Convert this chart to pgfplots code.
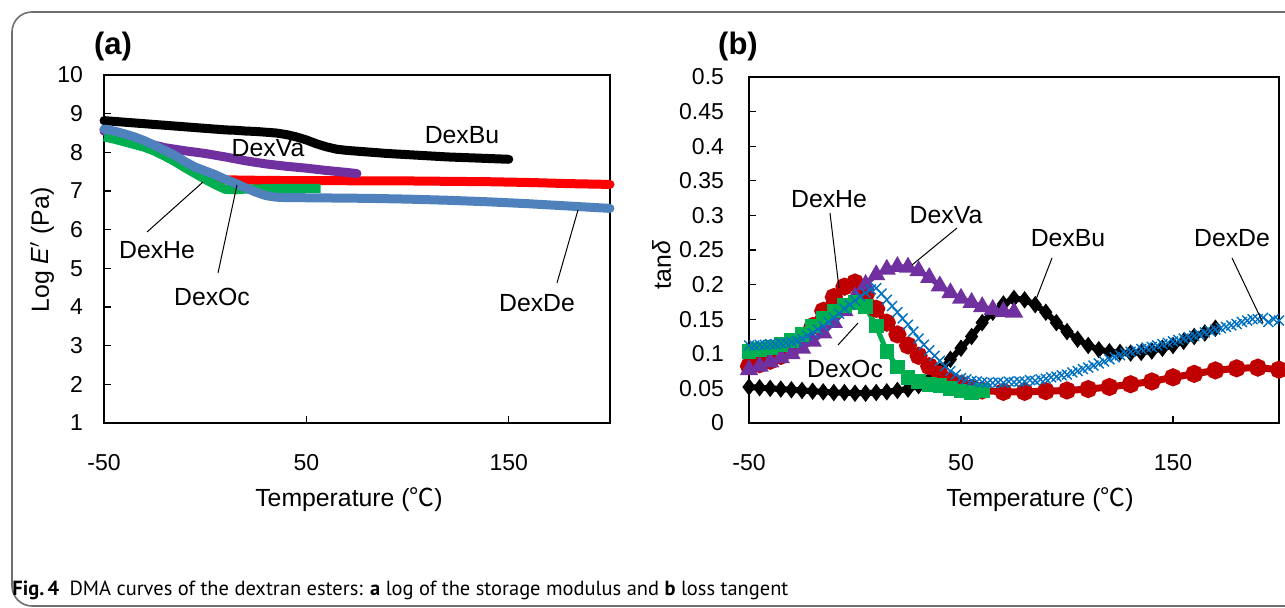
\documentclass[border=0pt]{standalone}
\usepackage{fontspec}
\setmainfont{Liberation Sans}
\newfontfamily\capfont{PT Sans}
\newfontfamily\cjk{Noto Sans CJK SC}
\usepackage{pgfplots}
\pgfplotsset{compat=1.18}

\definecolor{cRedA}{RGB}{255,0,0}
\definecolor{cRedB}{RGB}{192,0,0}
\definecolor{cPurple}{RGB}{112,48,160}
\definecolor{cGreen}{RGB}{0,176,80}
\definecolor{cBlueA}{RGB}{79,129,189}
\definecolor{cBlueB}{RGB}{0,112,192}
\definecolor{frameGray}{RGB}{110,110,110}

\pgfplotsset{
  dma/.style={
    scale only axis, xmin=-50, xmax=200,
    xtick={-50,50,150}, xticklabels={-50,50,150},
    xtick pos=left, ytick pos=left,
    tick align=inside, major tick length=3.5pt,
    tick style={black, line width=0.6pt},
    axis line style={black, line width=0.6pt},
    tick label style={font=\fontsize{11.5}{13}\selectfont},
    xticklabel style={yshift=-12pt},
    clip=false,
  },
  bandA/.style={line width=4.5pt, line join=round, line cap=round, mark=none},
}

\begin{document}
\begin{tikzpicture}[x=0.5pt,y=0.5pt]
\useasboundingbox (0,0) rectangle (1285,608);
\draw[frameGray, line width=0.8pt, rounded corners=10pt] (12,{608-12}) rectangle (1330,{608-606});

% ---------- (a) storage modulus ----------
\begin{axis}[dma, at={(52pt,92.5pt)}, anchor=south west,
  width=253pt, height=174pt, ymin=1, ymax=10,
  ytick={1,2,...,10}, yticklabels={1,2,3,4,5,6,7,8,9,10},
  yticklabel style={xshift=-7pt}]
\addplot[bandA, black] coordinates {
(-50,8.82) (-45,8.80) (-40,8.78) (-35,8.76) (-30,8.74) (-25,8.72) (-20,8.70)
(-15,8.68) (-10,8.66) (-5,8.64) (0,8.62) (5,8.60) (10,8.58) (15,8.57) (20,8.55)
(25,8.54) (30,8.52) (35,8.50) (40,8.46) (45,8.40) (50,8.32) (55,8.22) (60,8.14)
(65,8.08) (70,8.05) (80,8.01) (90,7.97) (100,7.94) (110,7.91) (120,7.88)
(130,7.86) (140,7.84) (150,7.82)};
\addplot[bandA, cRedA] coordinates {
(-50,8.56) (-45,8.50) (-40,8.43) (-35,8.35) (-30,8.25) (-25,8.12) (-20,7.98)
(-15,7.83) (-10,7.67) (-5,7.50) (0,7.38) (5,7.32) (10,7.29) (20,7.28) (40,7.27)
(60,7.27) (80,7.26) (100,7.26) (120,7.25) (140,7.24) (160,7.22) (180,7.19) (200,7.17)};
\addplot[bandA, cPurple] coordinates {
(-50,8.55) (-40,8.40) (-30,8.25) (-20,8.12) (-10,8.04) (0,7.97) (10,7.88)
(20,7.78) (30,7.70) (40,7.64) (50,7.59) (60,7.53) (70,7.48) (75,7.45)};
\addplot[bandA, cGreen, line cap=butt] coordinates {
(-50,8.40) (-45,8.34) (-40,8.27) (-35,8.20) (-30,8.13) (-25,8.03) (-20,7.90)
(-15,7.76) (-10,7.60) (-5,7.45) (0,7.30) (5,7.16) (10,7.04) (15,7.03) (20,7.05)
(30,7.06) (40,7.07) (50,7.07) (57,7.07)};
\addplot[bandA, cBlueA] coordinates {
(-50,8.60) (-45,8.55) (-40,8.48) (-35,8.40) (-30,8.30) (-25,8.18) (-20,8.05)
(-15,7.92) (-10,7.76) (-5,7.62) (0,7.52) (5,7.42) (10,7.30) (15,7.20) (20,7.08)
(25,6.97) (30,6.88) (35,6.84) (40,6.83) (60,6.82) (80,6.81) (100,6.79) (120,6.76)
(140,6.72) (160,6.67) (180,6.61) (200,6.55)};
\end{axis}

% ---------- (b) loss tangent ----------
\begin{axis}[dma, at={(374.5pt,92.5pt)}, anchor=south west,
  width=265pt, height=173pt, ymin=0, ymax=0.5,
  ytick={0,0.05,...,0.51},
  yticklabels={0,0.05,0.1,0.15,0.2,0.25,0.3,0.35,0.4,0.45,0.5},
  yticklabel style={xshift=-9pt}]
\addplot[black, line width=3pt, mark=diamond*, mark size=1.9pt] coordinates {
(-50,0.052) (-45,0.051) (-40,0.050) (-35,0.049) (-30,0.048) (-25,0.047) (-20,0.046)
(-15,0.045) (-10,0.044) (-5,0.044) (0,0.043) (5,0.043) (10,0.044) (15,0.045)
(20,0.047) (25,0.049) (30,0.054) (35,0.062) (40,0.075) (45,0.092) (50,0.108)
(55,0.125) (60,0.145) (65,0.160) (70,0.172) (75,0.180) (80,0.178) (85,0.171)
(90,0.160) (95,0.145) (100,0.132) (105,0.121) (110,0.112) (115,0.106) (120,0.103)
(125,0.102) (130,0.101) (135,0.102) (140,0.104) (145,0.108) (150,0.112)
(155,0.118) (160,0.125) (165,0.130) (170,0.137)};
\addplot[cRedB, line width=3.5pt, mark=*, mark size=2.7pt] coordinates {
(-50,0.082) (-45,0.085) (-40,0.090) (-35,0.097) (-30,0.107) (-25,0.122) (-20,0.140)
(-15,0.162) (-10,0.182) (-5,0.197) (0,0.203) (5,0.185) (10,0.165) (15,0.145)
(20,0.128) (25,0.112) (30,0.097) (35,0.082) (40,0.070) (45,0.062) (50,0.056)
(55,0.050) (60,0.047) (70,0.045) (80,0.045) (90,0.046) (100,0.047) (110,0.049)
(120,0.052) (130,0.056) (140,0.060) (150,0.066) (160,0.071) (170,0.076)
(180,0.079) (190,0.080) (200,0.077)};
\addplot[cPurple, line width=2.5pt, mark=triangle*, mark size=2.8pt] coordinates {
(-50,0.077) (-45,0.082) (-40,0.088) (-35,0.094) (-30,0.100) (-25,0.108) (-20,0.118)
(-15,0.130) (-10,0.145) (-5,0.162) (0,0.182) (5,0.200) (10,0.214) (15,0.222)
(20,0.226) (25,0.225) (30,0.220) (35,0.210) (40,0.198) (45,0.188) (50,0.180)
(55,0.174) (60,0.168) (65,0.164) (70,0.161) (75,0.160)};
\addplot[cGreen, line width=2.5pt, mark=square*, mark size=2.4pt] coordinates {
(-50,0.103) (-45,0.106) (-40,0.109) (-35,0.113) (-30,0.119) (-25,0.128) (-20,0.140)
(-15,0.152) (-10,0.162) (-5,0.170) (0,0.174) (5,0.168) (10,0.140) (15,0.103)
(20,0.081) (25,0.066) (30,0.060) (35,0.056) (40,0.054) (45,0.050) (50,0.046)
(55,0.044) (60,0.047)};
\addplot[cBlueB, only marks, mark=x, mark size=3.5pt, mark options={line width=0.7pt}] coordinates {
(-50,0.112) (-47.5,0.112) (-45,0.113) (-42.5,0.113) (-40,0.114) (-37.5,0.114)
(-35,0.115) (-32.5,0.116) (-30,0.117) (-27.5,0.119) (-25,0.122) (-22.5,0.126)
(-20,0.130) (-17.5,0.135) (-15,0.140) (-12.5,0.146) (-10,0.152) (-7.5,0.158)
(-5,0.165) (-2.5,0.171) (0,0.177) (2.5,0.183) (5,0.188) (7.5,0.193) (10,0.195)
(12.5,0.187) (15,0.178) (17.5,0.169) (20,0.160) (22.5,0.151) (25,0.142)
(27.5,0.132) (30,0.122) (32.5,0.113) (35,0.105) (37.5,0.097) (40,0.090)
(42.5,0.082) (45,0.075) (47.5,0.070) (50,0.065) (52.5,0.063) (55,0.061)
(57.5,0.060) (60,0.059) (62.5,0.058) (65,0.058) (67.5,0.059) (70,0.058)
(72.5,0.060) (75,0.059) (77.5,0.060) (80,0.060) (82.5,0.062) (85,0.061)
(87.5,0.063) (90,0.064) (92.5,0.066) (95,0.067) (97.5,0.069) (100,0.070)
(102.5,0.073) (105,0.075) (107.5,0.078) (110,0.080) (112.5,0.083) (115,0.086)
(117.5,0.089) (120,0.092) (122.5,0.095) (125,0.098) (127.5,0.101) (130,0.103)
(132.5,0.105) (135,0.107) (137.5,0.109) (140,0.110) (142.5,0.112) (145,0.114)
(147.5,0.116) (150,0.118) (152.5,0.120) (155,0.122) (157.5,0.124) (160,0.126)
(162.5,0.128) (165,0.131) (167.5,0.133) (170,0.135) (172.5,0.137) (175,0.139)
(177.5,0.141) (180,0.143) (182.5,0.146) (185,0.148) (187.5,0.150) (190,0.150)
(192.5,0.152) (195,0.146) (197.5,0.150) (200,0.148)};
\end{axis}

% ---------- labels ----------
\begin{scope}[every node/.style={font=\fontsize{12.4}{14}\selectfont, inner sep=0pt}]
\node[font=\bfseries\fontsize{15.5}{17}\selectfont] at (113,{608-47}) {(a)};
\node[font=\bfseries\fontsize{15.5}{17}\selectfont] at (738,{608-47}) {(b)};
\node at (349,{608-500}) {Temperature ({\cjk ℃})};
\node at (1040,{608-500}) {Temperature ({\cjk ℃})};
\node[rotate=90] at (42,{608-250}) {Log \textit{E}$'$ (Pa)};
\node[rotate=90] at (662,{608-265}) {tan\textit{δ}};
% panel (a) annotations
\node at (462,{608-135}) {DexBu};
\node at (268,{608-148}) {DexVa};
\node at (157,{608-250}) {DexHe};
\node at (212,{608-297}) {DexOc};
\node at (537,{608-303}) {DexDe};
% panel (b) annotations
\node at (829,{608-199}) {DexHe};
\node at (946,{608-215}) {DexVa};
\node at (845,{608-369}) {DexOc};
\node at (1068,{608-238}) {DexBu};
\node at (1232,{608-238}) {DexDe};
\end{scope}
\begin{scope}[black, line width=0.5pt]
\draw (147,{608-232}) -- (203,{608-182});
\draw (218,{608-273}) -- (237,{608-185});
\draw (557,{608-283}) -- (578,{608-210});
\draw (830,{608-213}) -- (839,{608-288});
\draw (957,{608-228}) -- (912,{608-265});
\draw (838,{608-345}) -- (858,{608-323});
\draw (1052,{608-258}) -- (1035,{608-302});
\draw (1232,{608-258}) -- (1263,{608-323});
\end{scope}

% caption
\node[anchor=west, inner sep=0pt] at (12,{608-590}) {\resizebox{388pt}{!}{\capfont\textbf{Fig.\,4}\enspace DMA curves of the dextran esters: \textbf{a} log of the storage modulus and \textbf{b} loss tangent}};
\end{tikzpicture}
\end{document}
